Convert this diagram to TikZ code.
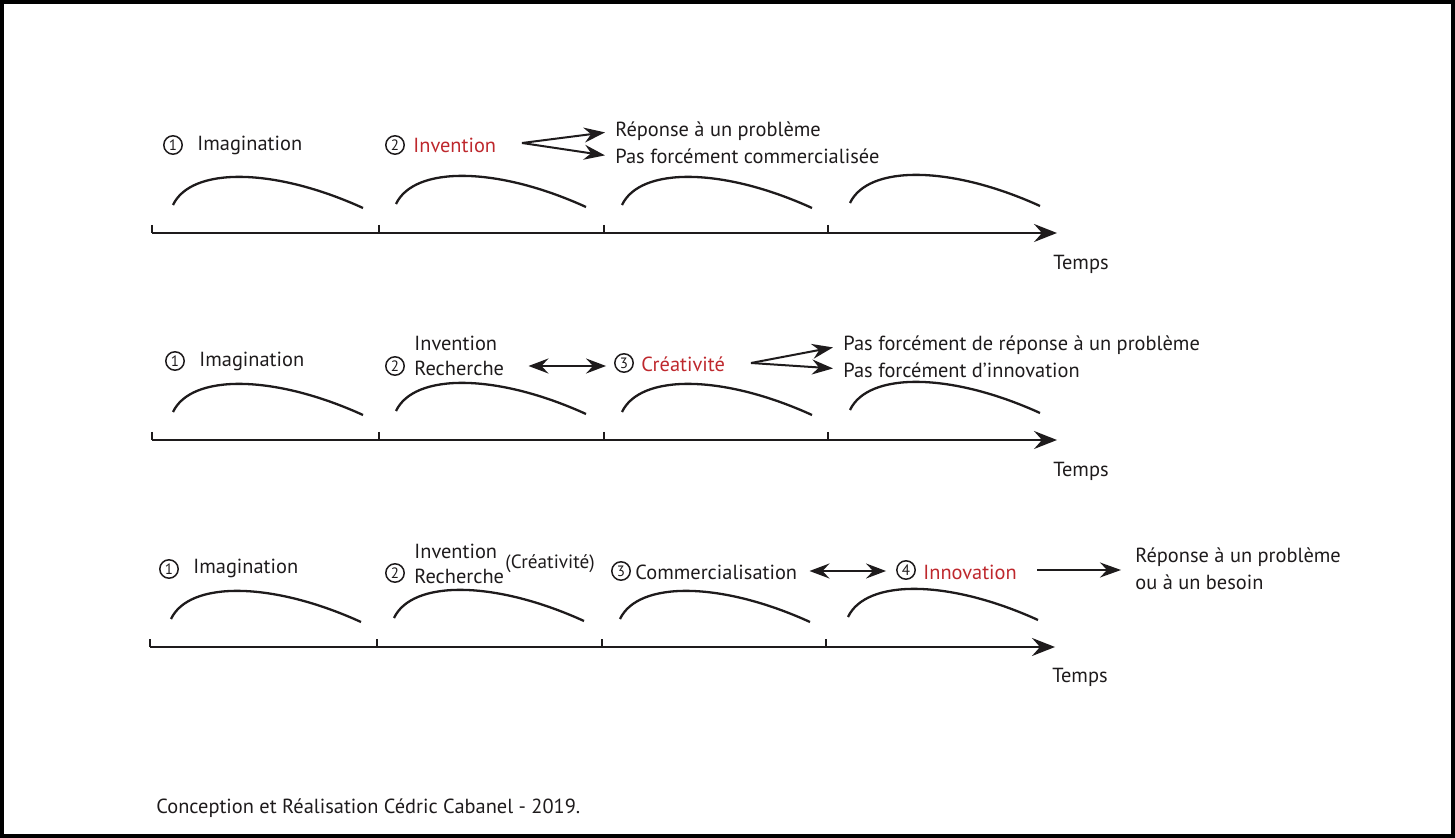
\documentclass[tikz,border=0pt]{standalone}
\usepackage{fontspec}
\setmainfont{PT Sans}
\usetikzlibrary{arrows.meta}
\definecolor{redtxt}{RGB}{190,40,45}
\definecolor{ink}{RGB}{30,27,28}
\begin{document}
\begin{tikzpicture}[x=0.5pt,y=-0.5pt,
  txt/.style={anchor=west,inner sep=0pt,yshift=-1.2pt,text=ink,font=\fontsize{10.2}{12}\selectfont},
  small/.style={anchor=west,inner sep=0pt,yshift=-1pt,text=ink,font=\fontsize{9.6}{11}\selectfont},
  num/.style={circle,draw=ink,line width=0.75pt,inner sep=0pt,minimum size=9.2pt,text=ink,font=\fontsize{7.5}{8}\selectfont},
  hump/.style={draw=ink,line width=1.15pt},
  axisline/.style={draw=ink,line width=1.1pt,-{Stealth[length=11.5pt,width=9pt,inset=4pt]}},
  ticker/.style={draw=ink,line width=1.1pt},
  tip/.style={draw=ink,line width=1pt,-{Stealth[length=10.5pt,width=7.5pt,inset=3.5pt]}},
  dtip/.style={draw=ink,line width=1pt,{Stealth[length=10pt,width=7.5pt,inset=3.5pt]}-{Stealth[length=10pt,width=7.5pt,inset=3.5pt]}}
]
\useasboundingbox (0,0) rectangle (1455,838);
\draw[line width=2pt] (2,2) rectangle (1453,836);

% ---------- humps and axes ----------
\foreach \dx/\dy in {0/0, 0/207, -2/414}{
  \foreach \sx/\sy in {173/205, 396/204, 622/205, 850/203}{
    \draw[hump] ({\sx+\dx},{\sy+\dy}) .. controls ({\sx+\dx+18},{\sy+\dy-38}) and ({\sx+\dx+100},{\sy+\dy-38}) .. ({\sx+\dx+190},{\sy+\dy+3});
  }
  \foreach \tx in {152,379,604,828}{
    \draw[ticker] ({\tx+\dx},{225+\dy}) -- ({\tx+\dx},{233+\dy});
  }
}
\coordinate (a1s) at (152,233); \coordinate (a1e) at (1057,233);
\coordinate (a2s) at (152,440); \coordinate (a2e) at (1057,440);
\coordinate (a3s) at (150,647); \coordinate (a3e) at (1055,647);
\draw[axisline] (a1s) -- (a1e);
\draw[axisline] (a2s) -- (a2e);
\draw[axisline] (a3s) -- (a3e);
\node[txt] (t1) at (1053,262) {Temps};
\node[txt] (t2) at (1053,469) {Temps};
\node[txt] (t3) at (1052,675) {Temps};

% ---------- row 1 ----------
\node[num] (n11) at (173,145) {1};
\node[txt] (im1) at (197,143) {Imagination};
\node[num] (n12) at (395,145) {2};
\node[txt,text=redtxt] (inv1) at (413,143) {Invention};
\coordinate (f1) at (522,143);
\node[txt] (rep1) at (615,129) {Réponse à un problème};
\node[txt] (pas1) at (615,154) {Pas forcément commercialisée};
\draw[tip] (f1) -- ([xshift=-5pt,yshift=-0.5pt]rep1.west);
\draw[tip] (f1) -- ([xshift=-5pt,yshift=0.5pt]pas1.west);

% ---------- row 2 ----------
\node[num] (n21) at (175,361) {1};
\node[txt] (im2) at (199,359) {Imagination};
\node[num] (n22) at (395,366) {2};
\node[txt] (inv2) at (414,341) {Invention};
\node[txt] (rec2) at (414,366) {Recherche};
\node[num] (n23) at (624,363) {3};
\node[txt,text=redtxt] (cre2) at (641,362) {Créativité};
\draw[dtip] ([xshift=12pt]rec2.east |- 0,366) -- ([xshift=-4pt]n23.west |- 0,366);
\coordinate (f2) at (751,363);
\node[txt] (rep2) at (843,343) {Pas forcément de réponse à un problème};
\node[txt] (pas2) at (843,368) {Pas forcément d’innovation};
\draw[tip] (f2) -- ([xshift=-5pt,yshift=-1pt]rep2.west);
\draw[tip] (f2) -- ([xshift=-5pt,yshift=1pt]pas2.west);

% ---------- row 3 ----------
\node[num] (n31) at (169,569) {1};
\node[txt] (im3) at (193,566) {Imagination};
\node[num] (n32) at (395,573) {2};
\node[txt] (inv3) at (414,549) {Invention};
\node[txt] (rec3) at (414,574) {Recherche};
\node[small] (crea3) at (505,562) {(Créativité)};
\node[num] (n33) at (621,571) {3};
\node[txt] (com3) at (635,570) {Commercialisation};
\node[num] (n34) at (906,570) {4};
\node[txt,text=redtxt] (inn3) at (923,570) {Innovation};
\draw[dtip] ([xshift=6pt]com3.east |- 0,571) -- ([xshift=-5pt]n34.west |- 0,571);
\node[txt] (rep3) at (1135,555) {Réponse à un problème};
\node[txt] (ou3) at (1135,580) {ou à un besoin};
\draw[tip] ([xshift=10pt]inn3.east |- 0,570) -- ([xshift=-7pt]rep3.west |- 0,570);

% ---------- footer ----------
\node[txt] (foot) at (156,806) {Conception et Réalisation Cédric Cabanel - 2019.};
\end{tikzpicture}
\end{document}
